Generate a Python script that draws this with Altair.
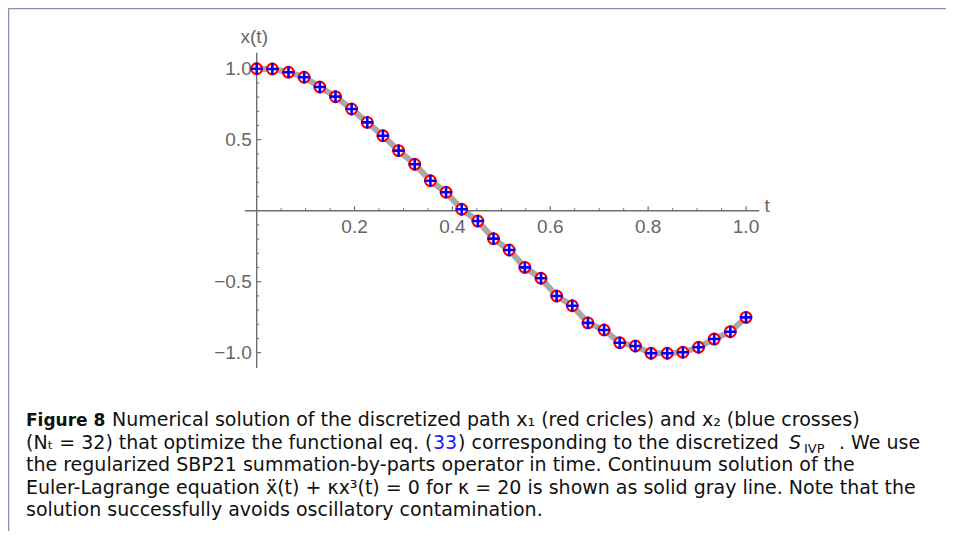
import altair as alt
import pandas as pd

# ---------------- data ----------------
t_vals = [0.0, 0.032, 0.065, 0.097, 0.129, 0.161, 0.194, 0.226, 0.258, 0.29,
          0.323, 0.355, 0.387, 0.419, 0.452, 0.484, 0.516, 0.548, 0.581, 0.613,
          0.645, 0.677, 0.71, 0.742, 0.774, 0.806, 0.839, 0.871, 0.903, 0.935,
          0.968, 1.0]
x_vals = [1.0, 0.998, 0.975, 0.94, 0.871, 0.803, 0.716, 0.622, 0.528, 0.423,
          0.327, 0.211, 0.130, 0.010, -0.073, -0.197, -0.277, -0.399, -0.476, -0.601,
          -0.669, -0.790, -0.840, -0.930, -0.953, -1.004, -1.004, -0.997, -0.962, -0.904,
          -0.852, -0.751]

x_major = [0.2, 0.4, 0.6, 0.8, 1.0]
x_major_labels = ["0.2", "0.4", "0.6", "0.8", "1.0"]
x_minor = [0.05, 0.1, 0.15, 0.25, 0.3, 0.35, 0.45, 0.5, 0.55, 0.65, 0.7, 0.75,
           0.85, 0.9, 0.95]
y_major = [-1.0, -0.5, 0.5, 1.0]
y_major_labels = ["\u22121.0", "\u22120.5", "0.5", "1.0"]
y_minor = [-0.9, -0.8, -0.7, -0.6, -0.4, -0.3, -0.2, -0.1, 0.1, 0.2, 0.3, 0.4,
           0.6, 0.7, 0.8, 0.9]
x_axis_extent = [-0.024, 1.027]
y_axis_extent = [-1.107, 1.113]

caption_segments = [
    # text, x(px), baseline y(px), style
    ("Figure 8", 26, 426, "bold"),
    ("Numerical solution of the discretized path x\u2081 (red cricles) and x\u2082 (blue crosses)", 112, 426, "regular"),
    ("(N\u209c = 32) that optimize the functional eq. (", 26, 448.5, "regular"),
    ("33", 433, 448.5, "blue"),
    (") corresponding to the discretized", 458, 448.5, "regular"),
    ("S", 789, 448.5, "italic"),
    ("IVP", 804, 452.5, "sub"),
    (". We use", 839, 448.5, "regular"),
    ("the regularized SBP21 summation-by-parts operator in time. Continuum solution of the", 26, 471, "regular"),
    ("Euler-Lagrange equation \u1e8d(t) + \u03bax\u00b3(t) = 0 for \u03ba = 20 is shown as solid gray line. Note that the", 26, 493.5, "regular"),
    ("solution successfully avoids oscillatory contamination.", 26, 516, "regular"),
]

# ---------------- geometry ----------------
W, H = 938, 523
xs = alt.Scale(domain=[-0.50828, 1.40874], nice=False, zero=False)
ys = alt.Scale(domain=[-2.25563, 1.42746], nice=False, zero=False)

AX = "#6e6e6e"
LBL = "#666666"
FONT = "Liberation Sans"
CFONT = "DejaVu Sans"
CSIZE = 19

pts = pd.DataFrame({"t": t_vals, "x": x_vals})

def X(field):
    return alt.X(field, type="quantitative", scale=xs, axis=None)

def Y(field):
    return alt.Y(field, type="quantitative", scale=ys, axis=None)

line = alt.Chart(pts).mark_line(color="#a8a8a8", strokeWidth=6).encode(x=X("t"), y=Y("x"))

xaxis = alt.Chart(pd.DataFrame({"a": [x_axis_extent[0]], "b": [x_axis_extent[1]], "v": [0.0]})).mark_rule(
    color=AX, strokeWidth=1.4).encode(x=X("a"), x2="b", y=Y("v"))
yaxis = alt.Chart(pd.DataFrame({"a": [y_axis_extent[0]], "b": [y_axis_extent[1]], "t": [0.0]})).mark_rule(
    color=AX, strokeWidth=1.4).encode(y=Y("a"), y2="b", x=X("t"))

xmaj = pd.DataFrame({"t": x_major, "lab": x_major_labels, "v": 0.0})
xmin = pd.DataFrame({"t": x_minor, "v": 0.0})
ymaj = pd.DataFrame({"v": y_major, "lab": y_major_labels, "t": 0.0})
ymin = pd.DataFrame({"v": y_minor, "t": 0.0})

xmaj_ticks = alt.Chart(xmaj).mark_rule(color=AX, strokeWidth=1.2, y2Offset=-4.5).encode(
    x=X("t"), y=Y("v"), y2="v")
xmin_ticks = alt.Chart(xmin).mark_rule(color=AX, strokeWidth=1.0, y2Offset=-2.5).encode(
    x=X("t"), y=Y("v"), y2="v")
ymaj_ticks = alt.Chart(ymaj).mark_rule(color=AX, strokeWidth=1.2, x2Offset=4.5).encode(
    y=Y("v"), x=X("t"), x2="t")
ymin_ticks = alt.Chart(ymin).mark_rule(color=AX, strokeWidth=1.0, x2Offset=2.5).encode(
    y=Y("v"), x=X("t"), x2="t")

xlabels = alt.Chart(xmaj).mark_text(font=FONT, fontSize=19, color=LBL, baseline="top", dy=7).encode(
    x=X("t"), y=Y("v"), text="lab:N")
ylabels = alt.Chart(ymaj).mark_text(font=FONT, fontSize=19, color=LBL, align="right", baseline="middle", dx=-5).encode(
    x=X("t"), y=Y("v"), text="lab:N")

titles = alt.Chart(pd.DataFrame({"t": [-0.005, 1.043], "v": [1.225, 0.03], "lab": ["x(t)", "t"]})).mark_text(
    font=FONT, fontSize=19, color=LBL, baseline="middle").encode(x=X("t"), y=Y("v"), text="lab:N")

circles = alt.Chart(pts).mark_point(shape="circle", filled=True, fill="white", stroke="#ff0000",
                                    strokeWidth=2.2, size=115, opacity=1).encode(x=X("t"), y=Y("x"))
crosses = alt.Chart(pts).mark_point(shape="M-1,0L1,0M0,-1L0,1", filled=False, stroke="#0000ff",
                                    strokeWidth=2.6, size=150, opacity=1).encode(x=X("t"), y=Y("x"))

# frame lines
frame_top = alt.Chart(pd.DataFrame({"a": [0]})).mark_rule(color="#8890ab", strokeWidth=1.5).encode(
    x=alt.value(0), x2=alt.value(W), y=alt.value(0.5))
frame_left = alt.Chart(pd.DataFrame({"a": [0]})).mark_rule(color="#8890ab", strokeWidth=1.5).encode(
    x=alt.value(0.5), y=alt.value(0), y2=alt.value(H))

cap = pd.DataFrame(caption_segments, columns=["text", "px", "py", "style"])
cap["px"] = cap["px"] - 8
cap["py"] = cap["py"] - 8

def cap_layer(style, **kw):
    d = cap[cap["style"] == style]
    return alt.Chart(d).mark_text(align="left", baseline="alphabetic", font=CFONT, **kw).encode(
        x=alt.X("px:Q", scale=None, axis=None), y=alt.Y("py:Q", scale=None, axis=None), text="text:N")

cap_regular = cap_layer("regular", fontSize=CSIZE, color="#111111")
cap_bold = cap_layer("bold", fontSize=17, color="#111111", fontWeight="bold")
cap_blue = cap_layer("blue", fontSize=CSIZE, color="#1a1aff")
cap_italic = cap_layer("italic", fontSize=CSIZE, color="#111111", fontStyle="italic")
cap_sub = cap_layer("sub", fontSize=13, color="#111111")

chart = alt.layer(
    frame_top, frame_left,
    line, xaxis, yaxis, xmaj_ticks, xmin_ticks, ymaj_ticks, ymin_ticks,
    xlabels, ylabels, titles, circles, crosses,
    cap_regular, cap_bold, cap_blue, cap_italic, cap_sub,
).properties(width=W, height=H, autosize=alt.AutoSizeParams(type="none"), padding=0
).configure_view(stroke=None)

chart.save("out.html", embed_options={"renderer": "svg", "actions": False})
